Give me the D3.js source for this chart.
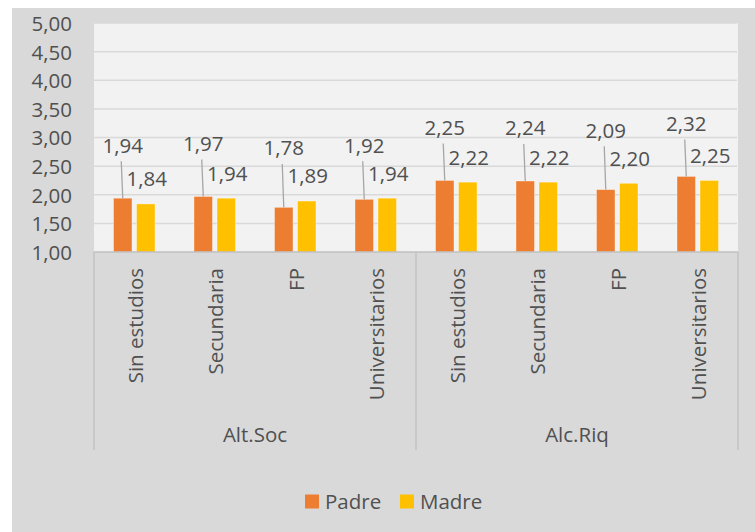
<!DOCTYPE html>
<html>
<head>
<meta charset="utf-8">
<script src="https://cdn.jsdelivr.net/npm/d3@7"></script>
<style>
  html, body { margin: 0; padding: 0; background: #ffffff; }
  svg { display: block; }
  text { font-family: "Open Sans", sans-serif; fill: #505050; }
</style>
</head>
<body>
<svg id="chart" width="755" height="532"></svg>
<script>
// ---- data ----
const groups = ["Alt.Soc", "Alc.Riq"];
const levels = ["Sin estudios", "Secundaria", "FP", "Universitarios"];
const seriesNames = ["Padre", "Madre"];
const padre = [1.94, 1.97, 1.78, 1.92, 2.25, 2.24, 2.09, 2.32];
const madre = [1.84, 1.94, 1.89, 1.94, 2.22, 2.22, 2.20, 2.25];
const yTicks = [1.0, 1.5, 2.0, 2.5, 3.0, 3.5, 4.0, 4.5, 5.0];

// ---- layout ----
const W = 755, H = 532;
const plot = { left: 94, right: 738, top: 23, bottom: 252 };
const colors = { Padre: "#ED7D31", Madre: "#FFC000" };
const fontSize = 20.5;

const svg = d3.select("#chart");
svg.append("rect").attr("x", 12).attr("y", 8).attr("width", W - 12).attr("height", H - 8).attr("fill", "#D9D9D9");
svg.append("rect").attr("x", plot.left).attr("y", plot.top)
  .attr("width", plot.right - plot.left).attr("height", plot.bottom - plot.top).attr("fill", "#F2F2F2");

const keys = [];
groups.forEach(g => levels.forEach(l => keys.push(g + "|" + l)));
const rows = keys.map((k, i) => ({ key: k, group: k.split("|")[0], level: k.split("|")[1], Padre: padre[i], Madre: madre[i] }));

const x = d3.scaleBand().domain(keys).range([plot.left, plot.right]).padding(0);
const y = d3.scaleLinear().domain([1, 5]).range([plot.bottom, plot.top]);
const fmt = v => d3.format(".2f")(v).replace(".", ",");

// gridlines
svg.append("g").selectAll("line").data(yTicks.filter(t => t > 1)).join("line")
  .attr("x1", plot.left).attr("x2", plot.right - 1)
  .attr("y1", d => y(d)).attr("y2", d => y(d))
  .attr("stroke", "#D9D9D9").attr("stroke-width", 1.5);

// y axis labels
const yAxis = d3.axisLeft(y).tickValues(yTicks).tickFormat(fmt).tickSize(0).tickPadding(0);
const yg = svg.append("g").attr("transform", `translate(72,0)`).call(yAxis);
yg.select(".domain").remove();
yg.selectAll("text").style("font-size", fontSize + "px").style("font-family", "Open Sans").attr("fill", "#505050").attr("dy", "0.36em");

// bars
const bw = 18.5, gap = 4.5;
const cx = d => x(d.key) + x.bandwidth() / 2;
const barX = { Padre: d => cx(d) - gap / 2 - bw, Madre: d => cx(d) + gap / 2 };
seriesNames.forEach(s => {
  svg.append("g").selectAll("rect").data(rows).join("rect")
    .attr("x", barX[s]).attr("width", bw)
    .attr("y", d => y(d[s])).attr("height", d => y(1) - y(d[s]))
    .attr("fill", colors[s]).attr("stroke", "#FFFFFF").attr("stroke-opacity", 0.4).attr("stroke-width", 0.9);
});

// data labels
const padreLift = 53, madreLift = 25, labelSep = 28;
const lbl = svg.append("g");
rows.forEach(d => {
  const px = cx(d) - gap / 2 - bw / 2;
  const my = y(d.Madre) - madreLift;
  const ly = Math.min(y(d.Padre) - padreLift, my - labelSep);
  lbl.append("line").attr("x1", px - 1.5).attr("y1", ly + 16).attr("x2", px).attr("y2", y(d.Padre))
    .attr("stroke", "#A6A6A6").attr("stroke-width", 1.3);
  lbl.append("text").attr("x", px).attr("y", ly).attr("dy", "0.36em").attr("text-anchor", "middle")
    .style("font-size", fontSize + "px").text(fmt(d.Padre));
  const mx = cx(d) + gap / 2 + bw / 2;
  lbl.append("text").attr("x", mx + 1).attr("y", my).attr("dy", "0.36em").attr("text-anchor", "middle")
    .style("font-size", fontSize + "px").text(fmt(d.Madre));
});

// category axis
const axisColor = "#BFBFBF";
svg.append("line").attr("x1", plot.left).attr("x2", plot.right).attr("y1", plot.bottom).attr("y2", plot.bottom)
  .attr("stroke", axisColor).attr("stroke-width", 1.3);
const sepX = [x(keys[0]), x(keys[levels.length]), plot.right];
svg.append("g").selectAll("line").data(sepX).join("line")
  .attr("x1", d => d).attr("x2", d => d).attr("y1", plot.bottom).attr("y2", 450)
  .attr("stroke", axisColor).attr("stroke-width", 1.3);

svg.append("g").selectAll("text").data(rows).join("text")
  .attr("transform", d => `translate(${cx(d) + 1},268) rotate(-90)`)
  .attr("text-anchor", "end").attr("dy", "0.36em")
  .style("font-size", fontSize + "px").text(d => d.level);

svg.append("g").selectAll("text").data(groups).join("text")
  .attr("x", g => (x(g + "|" + levels[0]) + x(g + "|" + levels[levels.length - 1]) + x.bandwidth()) / 2)
  .attr("y", 435).attr("dy", "0.36em").attr("text-anchor", "middle")
  .style("font-size", fontSize + "px").text(g => g);

// legend
const legX = { Padre: 305, Madre: 400 };
const leg = svg.append("g");
seriesNames.forEach(s => {
  leg.append("rect").attr("x", legX[s]).attr("y", 494.5).attr("width", 14).attr("height", 14).attr("fill", colors[s]);
  leg.append("text").attr("x", legX[s] + 20).attr("y", 501.5).attr("dy", "0.36em")
    .style("font-size", fontSize + "px").text(s);
});
</script>
</body>
</html>
